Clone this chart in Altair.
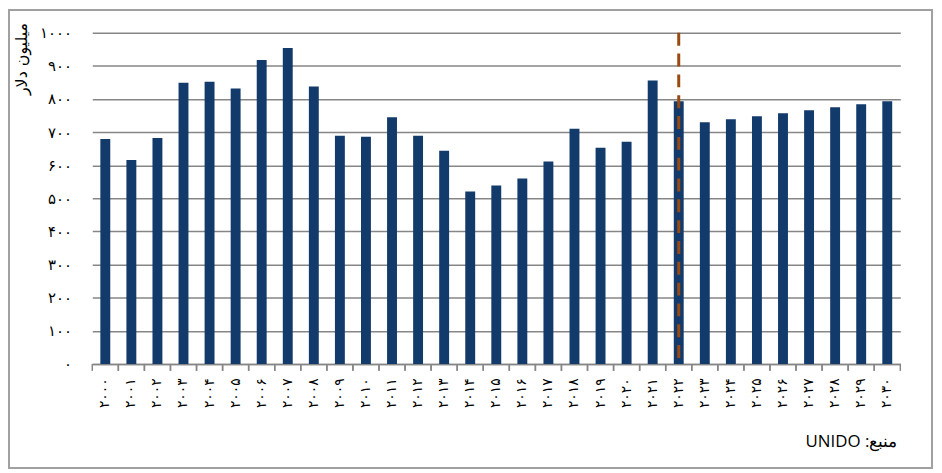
import json
import altair as alt
import pandas as pd

# ---- data ----
year_numbers = [2000, 2001, 2002, 2003, 2004, 2005, 2006, 2007, 2008, 2009,
                2010, 2011, 2012, 2013, 2014, 2015, 2016, 2017, 2018, 2019,
                2020, 2021, 2022, 2023, 2024, 2025, 2026, 2027, 2028, 2029, 2030]
values = [679, 616, 682, 849, 852, 832, 918, 954, 838, 689,
          686, 745, 689, 644, 521, 539, 560, 611, 710, 653,
          671, 856, 793, 730, 739, 748, 757, 766, 775, 784, 793]
y_ticks = [0, 100, 200, 300, 400, 500, 600, 700, 800, 900, 1000]
y_tick_labels = ["۰", "۱۰۰", "۲۰۰", "۳۰۰", "۴۰۰", "۵۰۰", "۶۰۰", "۷۰۰", "۸۰۰", "۹۰۰", "۱۰۰۰"]
marker_year = 2022
y_title = "میلیون دلار"
source_text = "\u202bمنبع: UNIDO\u202c"

to_fa = str.maketrans("0123456789", "۰۱۲۳۴۵۶۷۸۹")
years = [str(y).translate(to_fa) for y in year_numbers]
marker_label = str(marker_year).translate(to_fa)

df = pd.DataFrame({"year": years, "value": values})

W, H = 815, 334
BAR = "#123a6b"
GRID = "#868686"
FONT = "DejaVu Sans"

xscale = alt.Scale(domain=years, paddingInner=0, paddingOuter=0)

bars = alt.Chart(df).mark_bar(color=BAR, width=alt.RelativeBandSize(0.38)).encode(
    x=alt.X("year:N", scale=xscale, sort=None, title=None,
            axis=alt.Axis(labelAngle=270, ticks=False, domain=True, domainColor=GRID,
                          domainWidth=1.5, labelPadding=14, labelFontSize=14,
                          labelFont=FONT, labelColor="#000000", grid=False)),
    y=alt.Y("value:Q", scale=alt.Scale(domain=[0, 1000], nice=False), title=y_title,
            axis=alt.Axis(values=y_ticks, domain=False, ticks=False, grid=True,
                          gridColor=GRID, gridWidth=1.5, labelPadding=21,
                          labelFontSize=15, labelFont=FONT, labelColor="#000000",
                          labelExpr=json.dumps(y_tick_labels, ensure_ascii=False) + "[round(datum.value/100)]",
                          titleAngle=270, titleX=-71, titleY=26, titleAlign="center",
                          titleBaseline="middle", titleFont=FONT, titleFontSize=16,
                          titleFontWeight="normal", titleColor="#000000")),
)

ticks_left = alt.Chart(df).mark_rule(color=GRID, strokeWidth=1.5).encode(
    x=alt.X("year:N", bandPosition=0, title=None),
    y=alt.value(H), y2=alt.value(H + 7),
)
ticks_right = alt.Chart(df).mark_rule(color=GRID, strokeWidth=1.5).encode(
    x=alt.X("year:N", bandPosition=1, title=None),
    y=alt.value(H), y2=alt.value(H + 7),
)

vline = alt.Chart(pd.DataFrame({"year": [marker_label]})).mark_rule(
    color="#9a4a10", strokeWidth=3, strokeDash=[13, 8]
).encode(
    x=alt.X("year:N", title=None),
    y=alt.value(0), y2=alt.value(H),
)

one = pd.DataFrame({"k": [0]})
border = alt.Chart(one).mark_rect(fill="transparent", stroke="#a0a0a0", strokeWidth=2).encode(
    x=alt.value(-84), x2=alt.value(847), y=alt.value(-23), y2=alt.value(439),
)
source = alt.Chart(one).mark_text(align="right", baseline="middle", fontSize=17,
                                  font="Open Sans", color="#000000").encode(
    x=alt.value(812), y=alt.value(413), text=alt.value(source_text),
)

chart = alt.layer(border, bars, ticks_left, ticks_right, vline, source).properties(
    width=W, height=H,
    autosize=alt.AutoSizeParams(type="none"),
    padding={"left": 85, "top": 23, "right": 34, "bottom": 108},
    background="#ffffff",
).configure_view(strokeWidth=0)

chart.save("out.html", embed_options={"renderer": "svg", "actions": False})
